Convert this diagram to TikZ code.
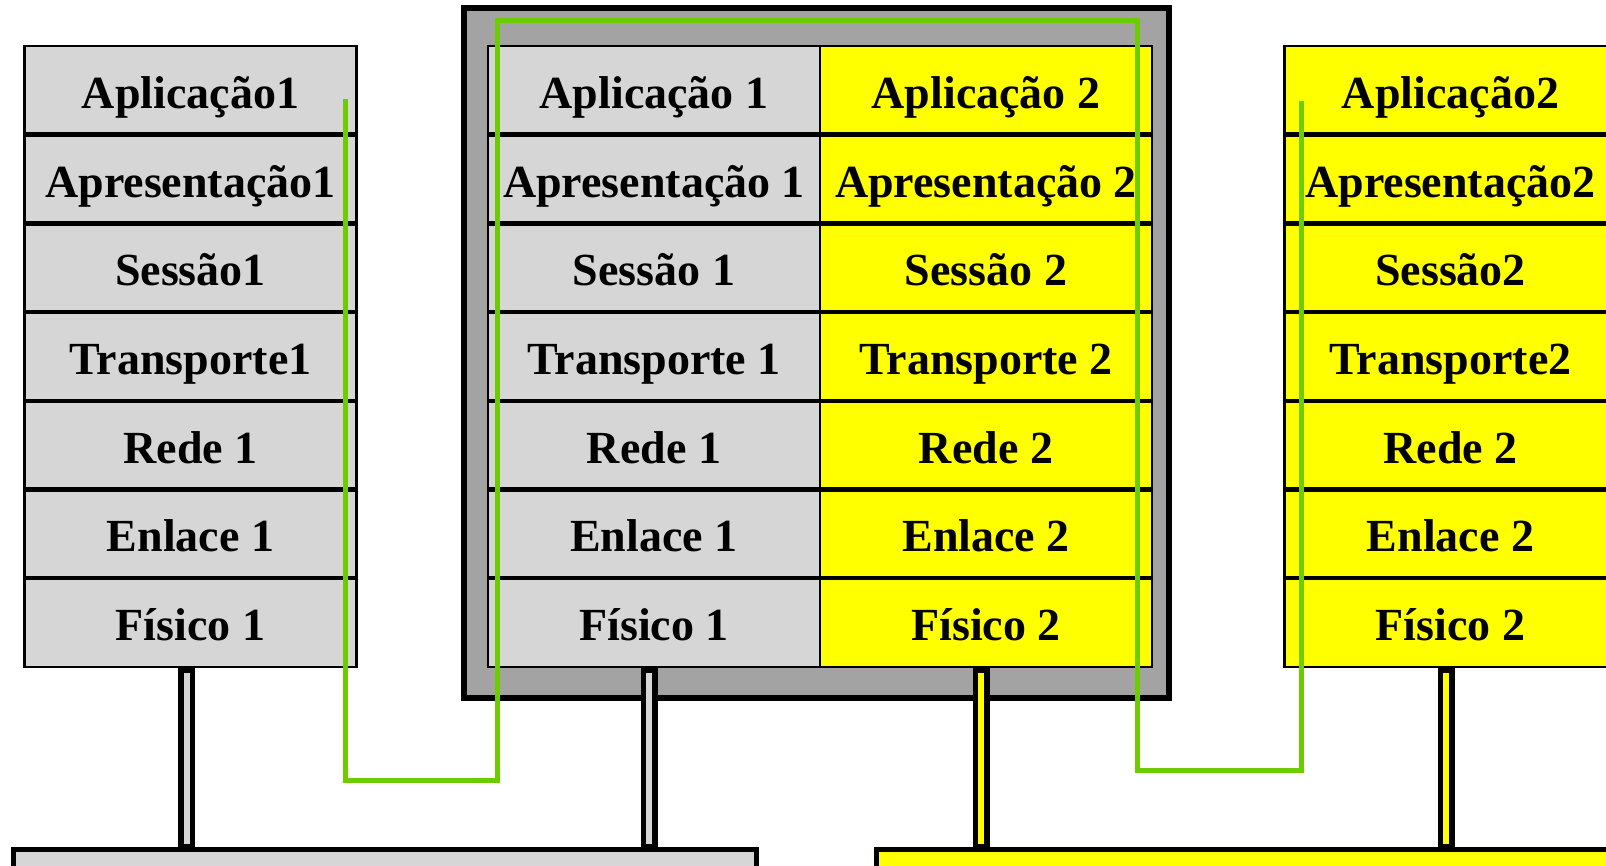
\documentclass[tikz,border=0pt]{standalone}
\usepackage{fontspec}
\setmainfont{Liberation Serif}
\definecolor{cellgray}{RGB}{214,214,214}
\definecolor{boxgray}{RGB}{163,163,163}
\definecolor{ylw}{RGB}{255,255,0}
\definecolor{grn}{RGB}{108,204,0}
\begin{document}
\begin{tikzpicture}[x=1pt,y=-1pt,
  cell/.style={rectangle, draw=black, line width=2.5pt, minimum width=332pt, minimum height=88.7pt,
    inner sep=0pt, outer sep=0pt, text height=37pt, text depth=1pt,
    font=\fontsize{46}{50}\selectfont\bfseries},
  graycell/.style={cell, fill=cellgray},
  ylwcell/.style={cell, fill=ylw},
  sepline/.style={draw=black, line width=4.5pt},
  link/.style={draw=grn, line width=5pt, line join=miter},
  postouter/.style={draw=black, line width=17pt},
  postinner/.style={line width=6pt, shorten <=6pt, shorten >=6pt},
  bus/.style={draw=black, line width=5pt}]
\useasboundingbox (0,0) rectangle (1606,865);
\clip (0,0) rectangle (1606,865);

% middle host frame
\node[rectangle, draw=black, fill=boxgray, line width=6pt, minimum width=705pt, minimum height=690pt,
  inner sep=0pt, outer sep=0pt] (MB) at (816.5,353) {};

% stacks
\foreach \lab [count=\k from 0] in {Aplicação1,Apresentação1,Sessão1,Transporte1,Rede 1,Enlace 1,Físico 1}
  \node[graycell] (L\k) at (190.5,{46+88.7*(\k+0.5)}) {\lab};
\foreach \lab [count=\k from 0] in {Aplicação 1,Apresentação 1,Sessão 1,Transporte 1,Rede 1,Enlace 1,Físico 1}
  \node[graycell] (M\k) at (654,{46+88.7*(\k+0.5)}) {\lab};
\foreach \lab [count=\k from 0] in {Aplicação 2,Apresentação 2,Sessão 2,Transporte 2,Rede 2,Enlace 2,Físico 2}
  \node[ylwcell] (N\k) at (986,{46+88.7*(\k+0.5)}) {\lab};
\foreach \lab [count=\k from 0] in {Aplicação2,Apresentação2,Sessão2,Transporte2,Rede 2,Enlace 2,Físico 2}
  \node[ylwcell] (R\k) at (1450.5,{46+88.7*(\k+0.5)}) {\lab};

% row separators
\foreach \k in {0,...,5} {
  \draw[sepline] (L\k.south west) -- (L\k.south east);
  \draw[sepline] (M\k.south west) -- (N\k.south east);
  \draw[sepline] (R\k.south west) -- (R\k.south east);
}

% bus bars
\node[rectangle, bus, fill=cellgray, minimum width=743pt, minimum height=40pt, inner sep=0pt, outer sep=0pt,
  anchor=north west] (BL) at (13.5,849.5) {};
\node[rectangle, bus, fill=ylw, minimum width=760pt, minimum height=40pt, inner sep=0pt, outer sep=0pt,
  anchor=north west] (BR) at (876.5,849.5) {};

% posts
\coordinate (p1a) at (186.5,667); \coordinate (p1b) at (186.5,850);
\coordinate (p2a) at (649,667);   \coordinate (p2b) at (649,850);
\coordinate (p3a) at (981,667);   \coordinate (p3b) at (981,850);
\coordinate (p4a) at (1446,667);  \coordinate (p4b) at (1446,850);
\draw[postouter] (p1a) -- (p1b);
\draw[postinner, cellgray] (p1a) -- (p1b);
\draw[postouter] (p2a) -- (p2b);
\draw[postinner, cellgray] (p2a) -- (p2b);
\draw[postouter] (p3a) -- (p3b);
\draw[postinner, ylw] (p3a) -- (p3b);
\draw[postouter] (p4a) -- (p4b);
\draw[postinner, ylw] (p4a) -- (p4b);

% green path
\coordinate (g1) at (345,99);
\coordinate (g2) at (345,780);
\coordinate (g3) at (497,780);
\coordinate (g4) at (497,20);
\coordinate (g5) at (1137,20);
\coordinate (g6) at (1137,770);
\coordinate (g7) at (1301,770);
\coordinate (g8) at (1301,101);
\draw[link] (g1) -- (g2) -- (g3) -- (g4) -- (g5) -- (g6) -- (g7) -- (g8);
\end{tikzpicture}
\end{document}
